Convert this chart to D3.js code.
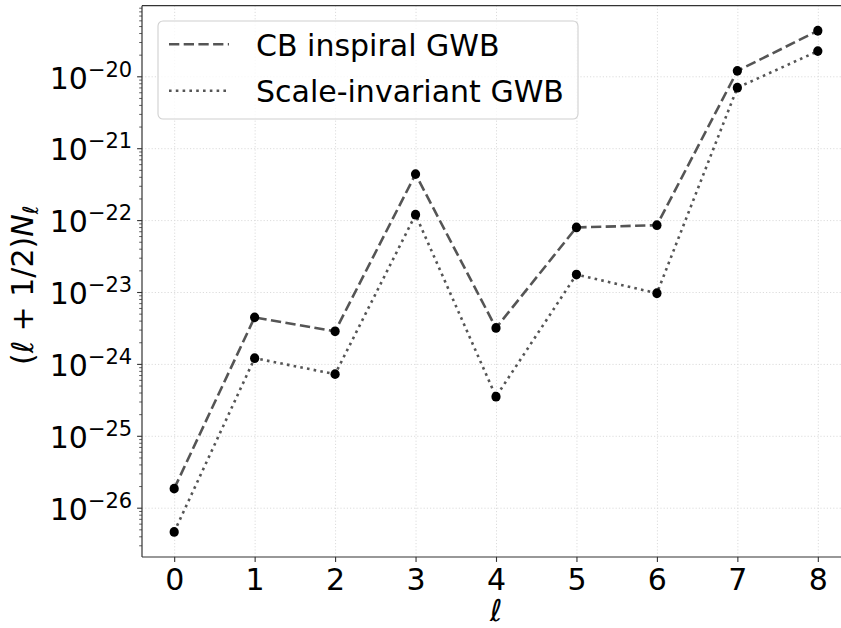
<!DOCTYPE html>
<html>
<head>
<meta charset="utf-8">
<script src="https://cdn.jsdelivr.net/npm/d3@7"></script>
<style>
  html, body { margin: 0; padding: 0; background: #fff; }
  svg { display: block; font-family: "DejaVu Sans", sans-serif; }
  .grid line { stroke: #dcdcdc; stroke-width: 1; stroke-dasharray: 1.2,2; }
  .grid path { display: none; }
  .axis path, .axis line { stroke: #333; }
</style>
</head>
<body>
<div id="chart"></div>
<script>
// multipole index and the two spectra
const ELL = [0, 1, 2, 3, 4, 5, 6, 7, 8];
const cbInspiral = [1.84e-26, 4.44e-24, 2.84e-24, 4.36e-22, 3.16e-24, 7.9e-23, 8.5e-23, 1.19e-20, 4.3e-20];
const scaleInvariant = [4.6e-27, 1.2e-24, 7.2e-25, 1.19e-22, 3.5e-25, 1.75e-23, 9.6e-24, 6.95e-21, 2.24e-20];
const yTickExps = [-26, -25, -24, -23, -22, -21, -20];
const legendLabels = ["CB inspiral GWB", "Scale-invariant GWB"];

const FONT = "DejaVu Sans";
const W = 841, H = 628;
const MARGIN = { top: 5.7, left: 142, bottom: 71, right: -9 }; // right edge of axes falls off the canvas
const innerW = W - MARGIN.left - MARGIN.right;
const innerH = H - MARGIN.top - MARGIN.bottom;

const svg = d3.select("#chart").append("svg").attr("width", W).attr("height", H)
  .attr("font-family", FONT);
svg.append("rect").attr("width", W).attr("height", H).attr("fill", "#fff");
const g = svg.append("g").attr("transform", `translate(${MARGIN.left},${MARGIN.top})`);

// matplotlib-like 5% margins (in log space for y)
const xPad = 0.05 * (d3.max(ELL) - d3.min(ELL));
const x = d3.scaleLinear()
  .domain([d3.min(ELL) - xPad, d3.max(ELL) + xPad])
  .range([0, innerW]);

const all = cbInspiral.concat(scaleInvariant);
const lo = Math.log10(d3.min(all)), hi = Math.log10(d3.max(all));
const yPad = 0.05 * (hi - lo);
const y = d3.scaleLog()
  .domain([Math.pow(10, lo - yPad), Math.pow(10, hi + yPad)])
  .range([innerH, 0]);

const yMajor = yTickExps.map(e => Math.pow(10, e));
const yMinor = [];
for (let k = -27; k <= -19; k++) {
  for (let m = 2; m <= 9; m++) {
    const v = m * Math.pow(10, k);
    if (v > y.domain()[0] && v < y.domain()[1]) yMinor.push(v);
  }
}

// grid
g.append("g").attr("class", "grid")
  .call(d3.axisLeft(y).tickValues(yMajor).tickSize(-innerW).tickFormat(""));
g.append("g").attr("class", "grid")
  .attr("transform", `translate(0,${innerH})`)
  .call(d3.axisBottom(x).tickValues(ELL).tickSize(-innerH).tickFormat(""));

// lines
const line = vals => d3.line().x((d, i) => x(ELL[i])).y(d => y(d))(vals);
g.append("path").attr("d", line(cbInspiral))
  .attr("fill", "none").attr("stroke", "#555").attr("stroke-width", 2.6)
  .attr("stroke-dasharray", "10.3,4.4");
g.append("path").attr("d", line(scaleInvariant))
  .attr("fill", "none").attr("stroke", "#555").attr("stroke-width", 2.6)
  .attr("stroke-dasharray", "2.6,4.2");

// markers
[cbInspiral, scaleInvariant].forEach(vals => {
  g.append("g").selectAll("ellipse").data(vals).join("ellipse")
    .attr("cx", (d, i) => x(ELL[i]))
    .attr("cy", d => y(d))
    .attr("rx", 4.6).attr("ry", 4.9)
    .attr("fill", "#000");
});

// spines: top, left, bottom
function seg(x1, y1, x2, y2) {
  g.append("line").attr("x1", x1).attr("y1", y1).attr("x2", x2).attr("y2", y2)
    .attr("stroke", "#333").attr("stroke-width", 1.2);
}
seg(0, 0, innerW, 0);
seg(0, 0, 0, innerH);
seg(0, innerH, innerW, innerH);

// y axis
const gyMinor = g.append("g").attr("class", "axis")
  .call(d3.axisLeft(y).tickValues(yMinor).tickSize(2.8).tickFormat(""));
gyMinor.select(".domain").remove();
gyMinor.selectAll("line").attr("stroke-width", 0.8);

const gy = g.append("g").attr("class", "axis")
  .call(d3.axisLeft(y).tickValues(yMajor).tickSize(4.9).tickPadding(4.9));
gy.attr("font-family", FONT).attr("font-size", 30);
gy.select(".domain").remove();
gy.selectAll("line").attr("stroke-width", 1.1);
gy.selectAll(".tick text").each(function(d) {
  const e = Math.round(Math.log10(d));
  const t = d3.select(this).text(null)
    .attr("dy", null).attr("y", 11.7)
    .attr("fill", "#000");
  t.append("tspan").text("10");
  t.append("tspan").attr("dy", -12).attr("font-size", 21).text("\u2212" + Math.abs(e));
});

// x axis
const gx = g.append("g").attr("class", "axis")
  .attr("transform", `translate(0,${innerH})`)
  .call(d3.axisBottom(x).tickValues(ELL).tickSize(4.9).tickPadding(4.9).tickFormat(d3.format("d")));
gx.attr("font-family", FONT).attr("font-size", 30);
gx.select(".domain").remove();
gx.selectAll("line").attr("stroke-width", 1.1);
gx.selectAll(".tick text").attr("fill", "#000").attr("dy", "0.77em");

// axis labels
g.append("text")
  .attr("x", innerW / 2).attr("y", innerH + 64)
  .attr("text-anchor", "middle").attr("font-size", 30).attr("font-style", "italic")
  .text("\u2113");

const yl = svg.append("text")
  .attr("transform", `translate(33,${MARGIN.top + innerH / 2 + 4}) rotate(-90)`)
  .attr("text-anchor", "middle").attr("font-size", 30);
yl.append("tspan").text("(");
yl.append("tspan").attr("font-style", "italic").text("\u2113");
yl.append("tspan").text(" + 1/2)");
yl.append("tspan").attr("font-style", "italic").text("N");
yl.append("tspan").attr("font-style", "italic").attr("font-size", 21).attr("dy", 5).text("\u2113");

// legend
const lg = svg.append("g");
lg.append("rect")
  .attr("x", 158).attr("y", 21).attr("width", 420).attr("height", 98).attr("rx", 5)
  .attr("fill", "#fff").attr("fill-opacity", 0.8)
  .attr("stroke", "#d0d0d0").attr("stroke-width", 1.1);
const dashes = ["10.3,4.4", "2.6,4.2"];
legendLabels.forEach((lab, i) => {
  const cy = 44.3 + i * 46.4;
  lg.append("line")
    .attr("x1", 169).attr("x2", 229).attr("y1", cy).attr("y2", cy)
    .attr("stroke", "#555").attr("stroke-width", 2.6)
    .attr("stroke-dasharray", dashes[i]);
  lg.append("text")
    .attr("x", 256).attr("y", cy + 11.5)
    .attr("font-size", 30).attr("fill", "#000")
    .text(lab);
});
</script>
</body>
</html>
